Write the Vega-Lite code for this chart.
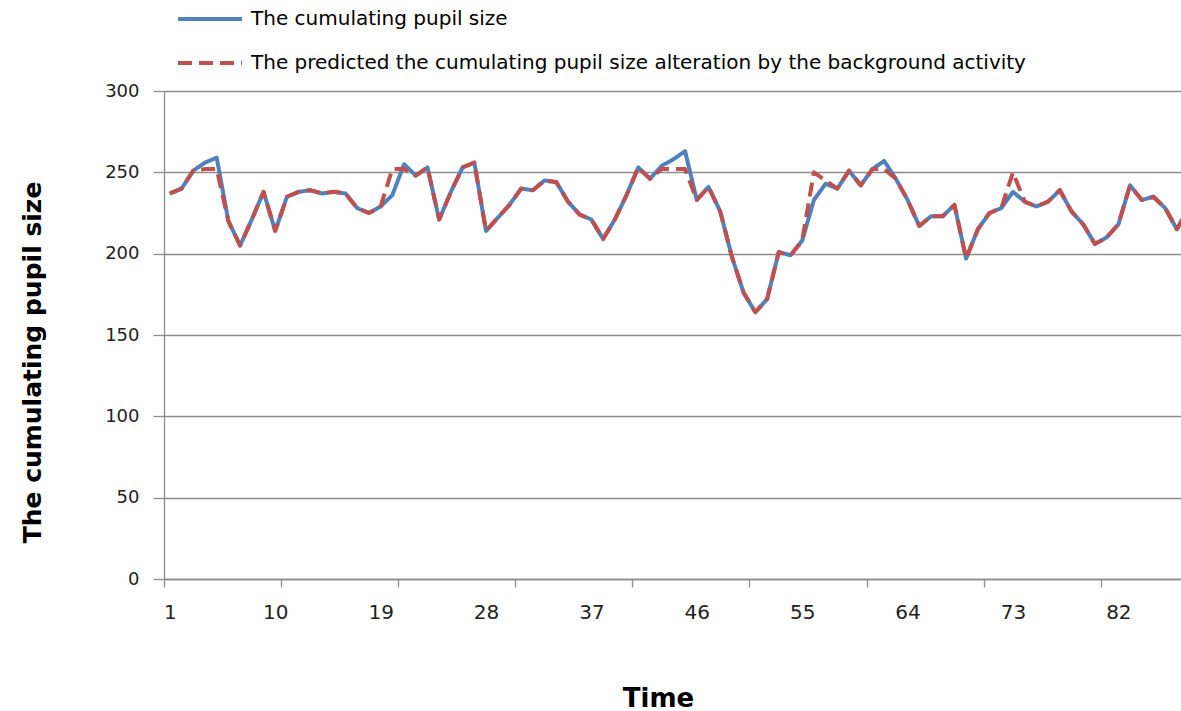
{
  "$schema": "https://vega.github.io/schema/vega-lite/v6.json",
  "width": 1017,
  "height": 488,
  "autosize": {"type": "none"},
  "padding": {"left": 164, "top": 91, "right": 0, "bottom": 132},
  "background": "white",
  "config": {"view": {"stroke": null}, "font": "DejaVu Sans"},
  "data": {"values": [
    {"t":1,"pupil":237,"pred":237},{"t":2,"pupil":240,"pred":240},{"t":3,"pupil":251,"pred":251},{"t":4,"pupil":256,"pred":252},
    {"t":5,"pupil":259,"pred":252},{"t":6,"pupil":220,"pred":220},{"t":7,"pupil":205,"pred":205},{"t":8,"pupil":221,"pred":221},
    {"t":9,"pupil":238,"pred":238},{"t":10,"pupil":214,"pred":214},{"t":11,"pupil":235,"pred":235},{"t":12,"pupil":238,"pred":238},
    {"t":13,"pupil":239,"pred":239},{"t":14,"pupil":237,"pred":237},{"t":15,"pupil":238,"pred":238},{"t":16,"pupil":237,"pred":237},
    {"t":17,"pupil":228,"pred":228},{"t":18,"pupil":225,"pred":225},{"t":19,"pupil":229,"pred":229},{"t":20,"pupil":236,"pred":252},
    {"t":21,"pupil":255,"pred":252},{"t":22,"pupil":248,"pred":248},{"t":23,"pupil":253,"pred":253},{"t":24,"pupil":221,"pred":221},
    {"t":25,"pupil":238,"pred":238},{"t":26,"pupil":253,"pred":253},{"t":27,"pupil":256,"pred":256},{"t":28,"pupil":214,"pred":214},
    {"t":29,"pupil":222,"pred":222},{"t":30,"pupil":230,"pred":230},{"t":31,"pupil":240,"pred":240},{"t":32,"pupil":239,"pred":239},
    {"t":33,"pupil":245,"pred":245},{"t":34,"pupil":244,"pred":244},{"t":35,"pupil":232,"pred":232},{"t":36,"pupil":224,"pred":224},
    {"t":37,"pupil":221,"pred":221},{"t":38,"pupil":209,"pred":209},{"t":39,"pupil":221,"pred":221},{"t":40,"pupil":236,"pred":236},
    {"t":41,"pupil":253,"pred":253},{"t":42,"pupil":246,"pred":246},{"t":43,"pupil":254,"pred":252},{"t":44,"pupil":258,"pred":252},
    {"t":45,"pupil":263,"pred":252},{"t":46,"pupil":233,"pred":233},{"t":47,"pupil":241,"pred":241},{"t":48,"pupil":226,"pred":226},
    {"t":49,"pupil":198,"pred":198},{"t":50,"pupil":176,"pred":176},{"t":51,"pupil":164,"pred":164},{"t":52,"pupil":172,"pred":172},
    {"t":53,"pupil":201,"pred":201},{"t":54,"pupil":199,"pred":199},{"t":55,"pupil":208,"pred":208},{"t":56,"pupil":233,"pred":250},
    {"t":57,"pupil":243,"pred":245},{"t":58,"pupil":240,"pred":240},{"t":59,"pupil":251,"pred":251},{"t":60,"pupil":242,"pred":242},
    {"t":61,"pupil":252,"pred":252},{"t":62,"pupil":257,"pred":252},{"t":63,"pupil":246,"pred":246},{"t":64,"pupil":233,"pred":233},
    {"t":65,"pupil":217,"pred":217},{"t":66,"pupil":223,"pred":223},{"t":67,"pupil":223,"pred":223},{"t":68,"pupil":230,"pred":230},
    {"t":69,"pupil":197,"pred":197},{"t":70,"pupil":215,"pred":215},{"t":71,"pupil":225,"pred":225},{"t":72,"pupil":228,"pred":228},
    {"t":73,"pupil":238,"pred":250},{"t":74,"pupil":232,"pred":232},{"t":75,"pupil":229,"pred":229},{"t":76,"pupil":232,"pred":232},
    {"t":77,"pupil":239,"pred":239},{"t":78,"pupil":226,"pred":226},{"t":79,"pupil":218,"pred":218},{"t":80,"pupil":206,"pred":206},
    {"t":81,"pupil":210,"pred":210},{"t":82,"pupil":218,"pred":218},{"t":83,"pupil":242,"pred":242},{"t":84,"pupil":233,"pred":233},
    {"t":85,"pupil":235,"pred":235},{"t":86,"pupil":228,"pred":228},{"t":87,"pupil":215,"pred":215},{"t":88,"pupil":228,"pred":228}
  ]},
  "transform": [{"fold": ["pupil", "pred"], "as": ["series", "value"]}],
  "encoding": {
    "y": {
      "field": "value", "type": "quantitative",
      "scale": {"domain": [0, 300], "nice": false},
      "axis": {
        "values": [0, 50, 100, 150, 200, 250, 300],
        "grid": true, "gridColor": "#8c8c8c", "gridWidth": 1.3,
        "domainColor": "#8c8c8c", "domainWidth": 1.3, "tickColor": "#8c8c8c", "tickSize": 11, "tickWidth": 1.3,
        "labelFontSize": 18, "labelColor": "#222", "labelPadding": 14, "labelFont": "DejaVu Sans",
        "title": "The cumulating pupil size", "titleFontSize": 25, "titleFontWeight": "bold",
        "titleColor": "#000", "titleFont": "DejaVu Sans",
        "titleX": -132, "titleY": 271, "titleAngle": -90, "titleAlign": "center", "titleBaseline": "middle"
      }
    },
    "color": {
      "field": "series", "type": "nominal",
      "scale": {"domain": ["pupil", "pred"], "range": ["#4F81BD", "#C0504D"]},
      "legend": {
        "orient": "none", "legendX": 12, "legendY": -106, "title": null, "direction": "vertical",
        "symbolType": "stroke", "symbolSize": 4096, "symbolStrokeWidth": 4,
        "labelFontSize": 20, "labelFont": "DejaVu Sans", "labelColor": "#000",
        "rowPadding": -19, "labelOffset": 7, "padding": 0, "labelLimit": 0,
        "labelExpr": "datum.label === 'pupil' ? 'The cumulating pupil size' : 'The predicted the cumulating pupil size alteration by the background activity'"
      }
    },
    "strokeDash": {
      "field": "series", "type": "nominal",
      "scale": {"domain": ["pupil", "pred"], "range": [[1, 0], [14, 7]]},
      "legend": {
        "orient": "none", "legendX": 12, "legendY": -106, "title": null, "direction": "vertical",
        "symbolType": "stroke", "symbolSize": 4096, "symbolStrokeWidth": 4,
        "labelFontSize": 20, "labelFont": "DejaVu Sans", "labelColor": "#000",
        "rowPadding": -19, "labelOffset": 7, "padding": 0, "labelLimit": 0,
        "labelExpr": "datum.label === 'pupil' ? 'The cumulating pupil size' : 'The predicted the cumulating pupil size alteration by the background activity'"
      }
    }
  },
  "layer": [
    {
      "transform": [{"filter": "datum.series === 'pupil'"}],
      "mark": {"type": "line", "strokeWidth": 4, "clip": true, "strokeJoin": "round"},
      "encoding": {
        "x": {
          "field": "t", "type": "quantitative",
          "scale": {"domain": [0.5, 87.35], "nice": false, "zero": false},
          "axis": {
            "orient": "bottom", "values": [1, 10, 19, 28, 37, 46, 55, 64, 73, 82],
            "ticks": false, "grid": false, "domain": true, "domainColor": "#8c8c8c", "domainWidth": 1.3,
            "labelFontSize": 20, "labelColor": "#222", "labelPadding": 23, "labelFont": "DejaVu Sans",
            "labelOverlap": false, "labelFlush": false, "format": "d",
            "title": "Time", "titleFontSize": 26, "titleFontWeight": "bold", "titleColor": "#000", "titleFont": "DejaVu Sans",
            "titleX": 494, "titleY": 119, "titleAlign": "center", "titleBaseline": "middle"
          }
        }
      }
    },
    {
      "transform": [{"filter": "datum.series === 'pred'"}],
      "mark": {"type": "line", "strokeWidth": 4, "clip": true, "strokeJoin": "round"},
      "encoding": {
        "x": {
          "field": "t", "type": "quantitative",
          "scale": {"domain": [0.5, 87.35], "nice": false, "zero": false},
          "axis": {
            "orient": "bottom", "values": [0.5, 10.5, 20.5, 30.5, 40.5, 50.5, 60.5, 70.5, 80.5],
            "labels": false, "domain": false, "grid": false, "ticks": true,
            "tickSize": 8, "tickColor": "#8c8c8c", "tickWidth": 1.3, "title": null
          }
        }
      }
    }
  ],
  "resolve": {"axis": {"x": "independent"}}
}
